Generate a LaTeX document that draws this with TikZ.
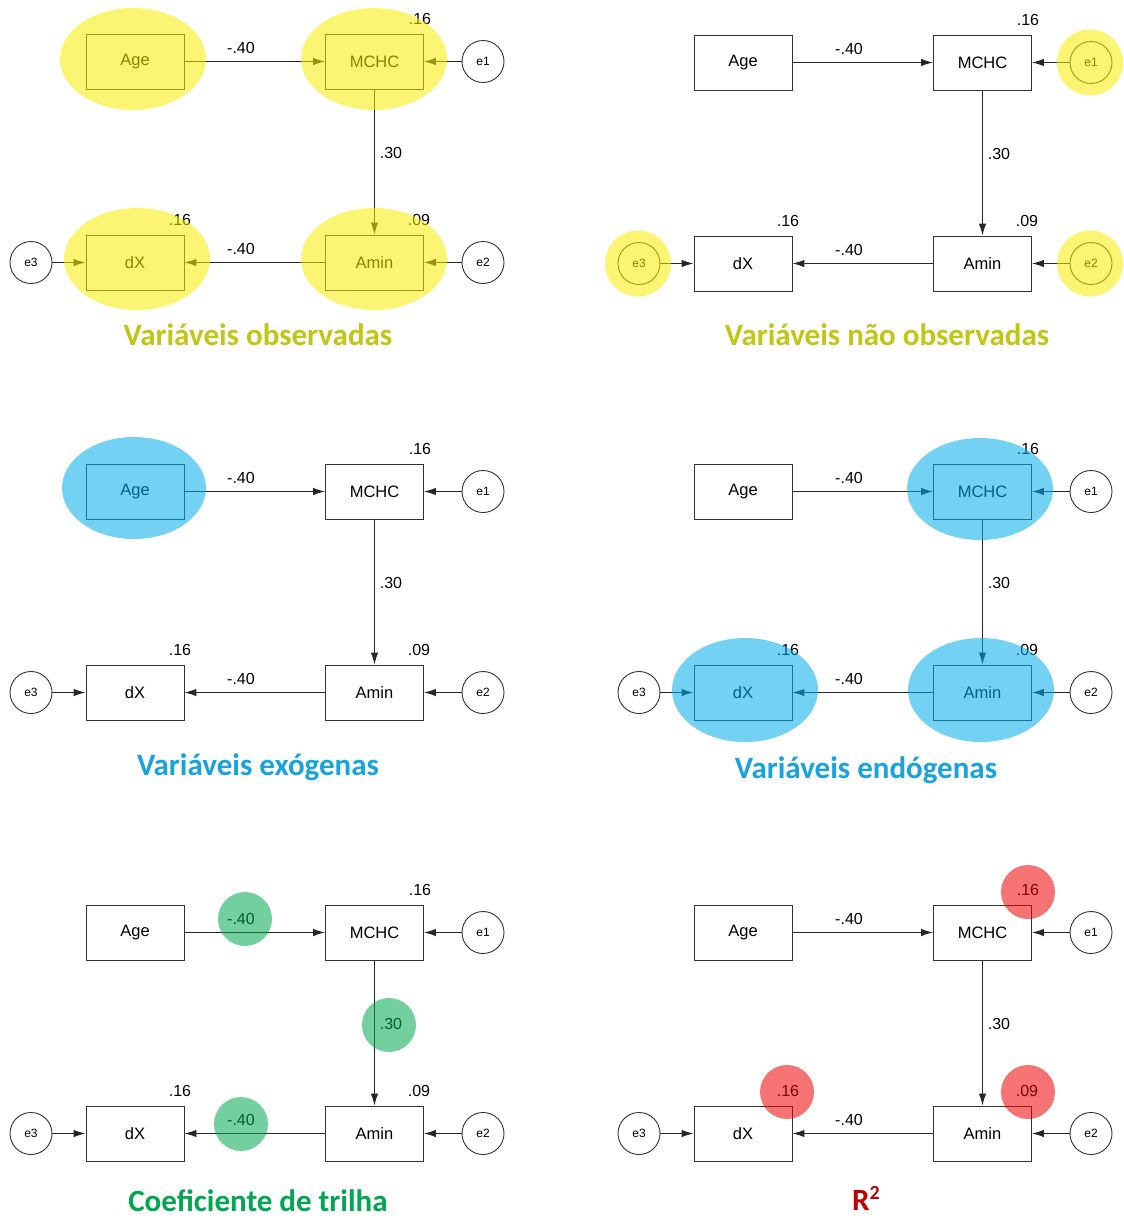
\documentclass[tikz,border=0pt]{standalone}
\usepackage{fontspec}
\setmainfont{Liberation Sans}
\newfontfamily\titlefont{Carlito}
\usetikzlibrary{arrows.meta}

\definecolor{hlyellow}{RGB}{250,238,0}
\definecolor{hlblue}{RGB}{0,172,236}
\definecolor{hlgreen}{RGB}{0,170,80}
\definecolor{hlred}{RGB}{238,0,0}
\definecolor{tyellow}{RGB}{196,196,22}
\definecolor{tblue}{RGB}{24,162,222}
\definecolor{tgreen}{RGB}{0,166,80}
\definecolor{tred}{RGB}{192,0,0}

\tikzset{
  var/.style={draw=black!80, line width=0.9pt, minimum width=98pt, minimum height=55pt,
    inner sep=0pt, font=\fontsize{16.5}{16.5}\selectfont},
  err/.style={circle, draw=black!80, line width=0.9pt, minimum size=42pt, inner sep=0pt,
    font=\fontsize{12}{12}\selectfont},
  link/.style={draw=black!85, line width=1.05pt, -{Latex[length=12pt,width=7.5pt]}},
  coef/.style={inner sep=0pt, font=\fontsize{16}{16}\selectfont},
  hl/.style={fill opacity=0.55},
  ptitle/.style={anchor=base, inner sep=0pt, font=\titlefont\bfseries\fontsize{31}{31}\selectfont}
}

% One path model: #1 = name prefix, #2/#3 = offset of the panel
\newcommand\semmodel[3]{%
  \begin{scope}[shift={(#2,#3)}]
    \node[var] (#1age)  at (135,61.5)   {Age};
    \node[var] (#1mchc) at (374.5,61.5) {MCHC};
    \node[var] (#1amin) at (374.5,262.5) {Amin};
    \node[var] (#1dx)   at (135,262.5)  {dX};
    \node[err] (#1e1) at (483,61.5)  {e1};
    \node[err] (#1e2) at (483,262.5) {e2};
    \node[err] (#1e3) at (31,262.5)  {e3};
    \draw[link] (#1age)  -- (#1mchc);
    \draw[link] (#1e1)   -- (#1mchc);
    \draw[link] (#1mchc) -- (#1amin);
    \draw[link] (#1amin) -- (#1dx);
    \draw[link] (#1e2)   -- (#1amin);
    \draw[link] (#1e3)   -- (#1dx);
    \node[coef] (#1rm) at (420,19)  {.16};
    \node[coef] (#1ra) at (419,220) {.09};
    \node[coef] (#1rd) at (180,220) {.16};
    \node[coef] (#1pa) at (241,48)  {-.40};
    \node[coef] (#1pm) at (391,153) {.30};
    \node[coef] (#1pd) at (241,249) {-.40};
  \end{scope}}

\begin{document}
\begin{tikzpicture}[x=1pt, y=-1pt]
  \fill[white] (0,0) rectangle (1124,1218);
  \useasboundingbox (0,0) rectangle (1124,1218);

  % observed variables
  \semmodel{a}{0}{0}
  \fill[hlyellow, hl] (133,59) ellipse [x radius=73pt, y radius=51pt];
  \fill[hlyellow, hl] (374,59) ellipse [x radius=73pt, y radius=51pt];
  \fill[hlyellow, hl] (137,259) ellipse [x radius=73pt, y radius=51pt];
  \fill[hlyellow, hl] (374,259) ellipse [x radius=73pt, y radius=51pt];
  \node[ptitle, text=tyellow] (ta) at (258,345) {Variáveis observadas};

  % unobserved variables
  \semmodel{b}{608}{1}
  \fill[hlyellow, hl] (1090,62.5) circle [radius=33pt];
  \fill[hlyellow, hl] (1090,263.5) circle [radius=33pt];
  \fill[hlyellow, hl] (638,263.5) circle [radius=33pt];
  \node[ptitle, text=tyellow] (tb) at (887,345) {Variáveis não observadas};

  % exogenous variables
  \semmodel{c}{0}{430}
  \fill[hlblue, hl] (134,488) ellipse [x radius=72pt, y radius=51pt];
  \node[ptitle, text=tblue] (tc) at (258,775) {Variáveis exógenas};

  % endogenous variables
  \semmodel{d}{608}{430}
  \fill[hlblue, hl] (980,489) ellipse [x radius=73pt, y radius=51pt];
  \fill[hlblue, hl] (745,690) ellipse [x radius=73pt, y radius=52pt];
  \fill[hlblue, hl] (981,690) ellipse [x radius=73pt, y radius=52pt];
  \node[ptitle, text=tblue] (td) at (866,778) {Variáveis endógenas};

  % path coefficients
  \semmodel{e}{0}{871}
  \fill[hlgreen, hl] (245,919) circle [radius=27pt];
  \fill[hlgreen, hl] (389,1025) circle [radius=27pt];
  \fill[hlgreen, hl] (241,1124) circle [radius=27pt];
  \node[ptitle, text=tgreen] (te) at (258,1211) {Coeficiente de trilha};

  % explained variance
  \semmodel{f}{608}{871}
  \fill[hlred, hl] (1028,892) circle [radius=27pt];
  \fill[hlred, hl] (787,1092) circle [radius=27pt];
  \fill[hlred, hl] (1028,1092) circle [radius=27pt];
  \node[ptitle, text=tred] (tf) at (866,1210) {R\raisebox{11pt}{\fontsize{20}{20}\selectfont 2}};
\end{tikzpicture}
\end{document}
